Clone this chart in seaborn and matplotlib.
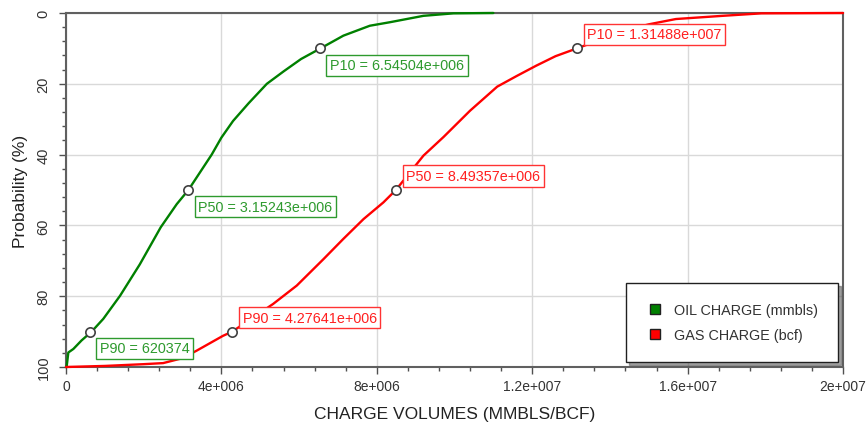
import numpy as np
import pandas as pd
import matplotlib
matplotlib.use("Agg")
import matplotlib.pyplot as plt
from matplotlib.lines import Line2D
from matplotlib.ticker import MultipleLocator
import seaborn as sns

# exceedance curves (volume, probability %)
oil_volume = [0, 0.02e6, 0.06e6, 0.19e6, 0.40e6, 0.66e6, 0.96e6, 1.39e6, 1.90e6, 2.44e6,
              2.85e6, 3.15e6, 3.45e6, 3.75e6, 4.0e6, 4.3e6, 4.7e6, 5.17e6, 5.6e6,
              6.05e6, 6.55e6, 7.14e6, 7.82e6, 8.34e6, 9.20e6, 9.97e6, 11.0e6]
oil_prob = [100, 99.6, 95.9, 94.9, 92.5, 90, 86.4, 79.9, 71.0, 60.5,
            54.0, 50, 45, 40, 35.2, 30.5, 25.5, 20, 16.5,
            13, 10, 6.4, 3.6, 2.6, 0.8, 0.1, 0]

gas_volume = [0, 1.0e6, 2.0e6, 2.5e6, 3.0e6, 3.36e6, 4.04e6, 4.28e6, 5.33e6, 5.94e6,
              6.63e6, 7.14e6, 7.66e6, 8.17e6, 8.49e6, 9.20e6, 9.72e6, 10.4e6, 11.1e6,
              11.6e6, 12.1e6, 12.6e6, 13.15e6, 13.5e6, 14.2e6, 15.0e6, 15.7e6, 16.9e6,
              17.9e6, 20.0e6]
gas_prob = [100, 99.7, 99.2, 98.9, 97.5, 95.4, 91.2, 90, 82.2, 77,
            69.5, 63.8, 58.2, 53.5, 50, 40.3, 35.0, 27.6, 20.8,
            17.8, 14.9, 12.2, 10, 8.6, 5.5, 3.2, 1.7, 0.8,
            0.1, 0]

series_names = ["OIL CHARGE (mmbls)", "GAS CHARGE (bcf)"]
series_colors = ["#008000", "#ff0000"]

p_levels = [90, 50, 10]
oil_p_values = [620374, 3.15243e6, 6.54504e6]
gas_p_values = [4.27641e6, 8.49357e6, 1.31488e7]
oil_p_labels = ["P90 = 620374", "P50 = 3.15243e+006", "P10 = 6.54504e+006"]
gas_p_labels = ["P90 = 4.27641e+006", "P50 = 8.49357e+006", "P10 = 1.31488e+007"]

x_ticks = [0, 4e6, 8e6, 12e6, 16e6, 20e6]
x_tick_labels = ["0", "4e+006", "8e+006", "1.2e+007", "1.6e+007", "2e+007"]
y_ticks = [0, 20, 40, 60, 80, 100]

sns.set_theme(style="white")
plt.rcParams['font.family'] = ['Liberation Sans', 'DejaVu Sans']

df = pd.concat([
    pd.DataFrame({"volume": oil_volume, "prob": oil_prob, "series": series_names[0]}),
    pd.DataFrame({"volume": gas_volume, "prob": gas_prob, "series": series_names[1]}),
])

fig = plt.figure(figsize=(8.67, 4.27), dpi=100)
ax = fig.add_axes([66 / 867, 59 / 427, 777 / 867, 354 / 427])

sns.lineplot(data=df, x="volume", y="prob", hue="series", palette=series_colors,
             estimator=None, sort=False, legend=False, linewidth=1.7, clip_on=False,
             zorder=3, ax=ax)

label_box = dict(boxstyle="square,pad=0.25", facecolor="white", linewidth=1)
for vals, labels, color, txt_color, offs, va in [
        (oil_p_values, oil_p_labels, "#2e9a2e", "#2e9a2e", (7, -7), "top"),
        (gas_p_values, gas_p_labels, "#ff3333", "#ff2020", (7.5, 5), "bottom")]:
    sns.scatterplot(x=vals, y=p_levels, color="white", edgecolor="#404040",
                    linewidth=1.2, s=45, zorder=5, ax=ax)
    for v, p, lab in zip(vals, p_levels, labels):
        ax.annotate(lab, xy=(v, p), xytext=offs, textcoords="offset points",
                    ha="left", va=va, fontsize=10.4, color=txt_color,
                    bbox=dict(label_box, edgecolor=color), zorder=6)

ax.set_xlim(0, 2e7)
ax.set_ylim(100, 0)
ax.set_xticks(x_ticks)
ax.set_xticklabels(x_tick_labels, fontsize=10, color="#333333")
ax.set_yticks(y_ticks)
ax.set_yticklabels([str(t) for t in y_ticks], fontsize=10.5, color="#333333",
                   rotation=90, va="center")
ax.xaxis.set_minor_locator(MultipleLocator(0.8e6))
ax.yaxis.set_minor_locator(MultipleLocator(4))
ax.tick_params(which="major", direction="out", length=5, width=1, color="#505050",
               left=True, bottom=True, pad=4)
ax.tick_params(which="minor", direction="out", length=3, width=1, color="#505050",
               left=True, bottom=True)
ax.tick_params(axis="y", which="major", pad=6)
ax.grid(True, which="major", color="#d9d9d9", linewidth=1)
for side in ax.spines:
    ax.spines[side].set_color("#606060")
    ax.spines[side].set_linewidth(1.5)

ax.set_xlabel("CHARGE VOLUMES (MMBLS/BCF)", fontsize=12.5, color="#222222", labelpad=9)
ax.set_ylabel("Probability (%)", fontsize=12.5, color="#222222", labelpad=6)

handles = [Line2D([], [], linestyle="none", marker="s", markersize=7,
                  markerfacecolor=c, markeredgecolor="#202020") for c in series_colors]
leg = ax.legend(handles, series_names, loc="lower right", bbox_to_anchor=(0.9936, 0.0141),
                fontsize=10.4, frameon=True, fancybox=False, shadow=True, borderpad=1.4,
                handlelength=1.2, handletextpad=0.7, labelspacing=0.75, borderaxespad=0)
leg.get_frame().set_edgecolor("#202020")
leg.get_frame().set_linewidth(1)
for t in leg.get_texts():
    t.set_color("#333333")

fig.savefig("out.png", dpi=100)
